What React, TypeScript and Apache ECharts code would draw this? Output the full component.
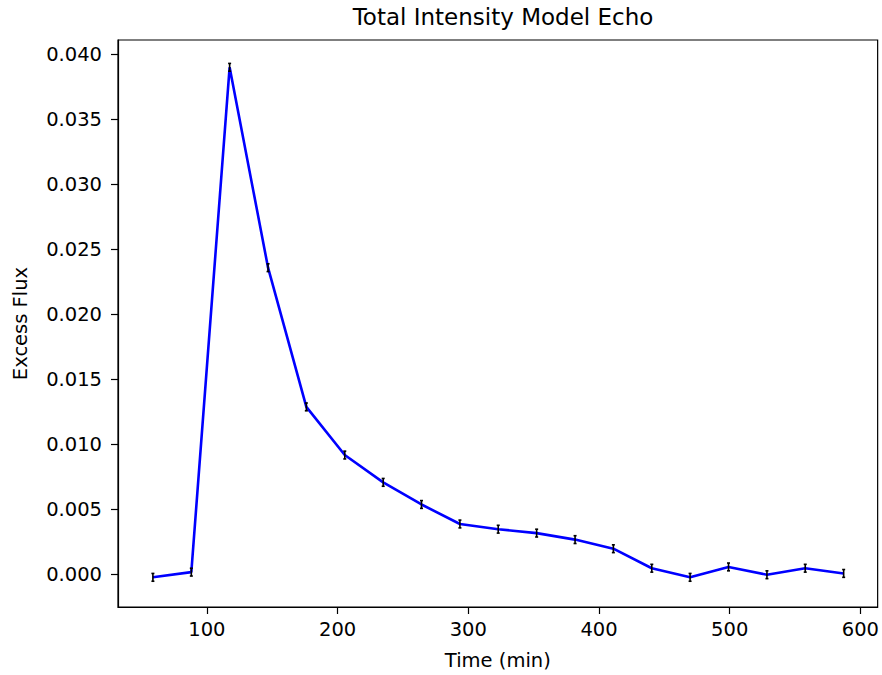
import React, { useEffect, useRef } from "react";
import * as echarts from "echarts";

const times = [58.7, 88.1, 117.4, 146.8, 176.1, 205.5, 234.9, 264.2, 293.6, 322.9, 352.3, 381.7, 411.0, 440.4, 469.7, 499.1, 528.5, 557.8, 587.2];
const flux = [-0.0002, 0.0002, 0.0390, 0.0236, 0.0129, 0.0092, 0.0071, 0.0054, 0.0039, 0.0035, 0.0032, 0.0027, 0.0020, 0.0005, -0.0002, 0.0006, 0.0000, 0.0005, 0.0001];
const errors = [0.0003, 0.0003, 0.0003, 0.0003, 0.0003, 0.0003, 0.0003, 0.0003, 0.0003, 0.0003, 0.0003, 0.0003, 0.0003, 0.0003, 0.0003, 0.0003, 0.0003, 0.0003, 0.0003];
const xTicks = [100, 200, 300, 400, 500, 600];
const yTicks = [0, 0.005, 0.01, 0.015, 0.02, 0.025, 0.03, 0.035, 0.04];

const FONT = "DejaVu Sans";

export default function App() {
  const ref = useRef<HTMLDivElement>(null);
  useEffect(() => {
    if (!ref.current) return;
    const chart = echarts.init(ref.current, undefined, { renderer: "svg" });
    const lineData = times.map((t, i) => [t, flux[i]]);
    const errData = times.map((t, i) => [t, flux[i] - errors[i], flux[i] + errors[i]]);
    chart.setOption({
      animation: false,
      backgroundColor: "#ffffff",
      title: {
        text: "Total Intensity Model Echo",
        left: 498,
        top: 0,
        textAlign: "center",
        textStyle: { fontFamily: FONT, fontSize: 23, fontWeight: "normal", color: "#000" },
      },
      grid: {
        left: 118,
        right: 4,
        top: 40,
        bottom: 68,
        show: true,
        borderColor: "#000",
        borderWidth: 1.2,
        backgroundColor: "transparent",
      },
      xAxis: {
        type: "value",
        min: 32,
        max: 613.2,
        name: "Time (min)",
        nameLocation: "middle",
        nameGap: 43,
        nameTextStyle: { fontFamily: FONT, fontSize: 19.5, color: "#000" },
        axisLine: { show: true, onZero: false, lineStyle: { color: "#000", width: 1.2 } },
        axisTick: { show: true, length: 7, lineStyle: { color: "#000", width: 1.2 }, customValues: xTicks },
        axisLabel: { fontFamily: FONT, fontSize: 19.5, color: "#000", margin: 12, customValues: xTicks, formatter: (v: number) => String(v) },
        splitLine: { show: false },
      },
      yAxis: {
        type: "value",
        min: -0.00248,
        max: 0.0411,
        name: "Excess Flux",
        nameLocation: "middle",
        nameGap: 88,
        nameTextStyle: { fontFamily: FONT, fontSize: 19.5, color: "#000" },
        axisLine: { show: true, onZero: false, lineStyle: { color: "#000", width: 1.2 } },
        axisTick: { show: true, length: 7, lineStyle: { color: "#000", width: 1.2 }, customValues: yTicks },
        axisLabel: { fontFamily: FONT, fontSize: 19.5, color: "#000", margin: 16, customValues: yTicks, formatter: (v: number) => v.toFixed(3) },
        splitLine: { show: false },
      },
      series: [
        {
          type: "line",
          data: lineData,
          showSymbol: false,
          symbol: "none",
          lineStyle: { color: "#0000ff", width: 2.6 },
          z: 2,
        },
        {
          type: "custom",
          data: errData,
          z: 3,
          renderItem: (params: any, api: any) => {
            const x = api.value(0);
            const lo = api.coord([x, api.value(1)]);
            const hi = api.coord([x, api.value(2)]);
            const style = { stroke: "#000", lineWidth: 1.6 };
            return {
              type: "group",
              children: [
                { type: "line", shape: { x1: lo[0], y1: lo[1], x2: hi[0], y2: hi[1] }, style },
                { type: "line", shape: { x1: lo[0] - 1.5, y1: lo[1], x2: lo[0] + 1.5, y2: lo[1] }, style },
                { type: "line", shape: { x1: hi[0] - 1.5, y1: hi[1], x2: hi[0] + 1.5, y2: hi[1] }, style },
              ],
            };
          },
        },
      ],
    });
    return () => chart.dispose();
  }, []);
  return <div ref={ref} style={{ position: "absolute", left: 0, top: 0, width: 882, height: 675 }} />;
}
